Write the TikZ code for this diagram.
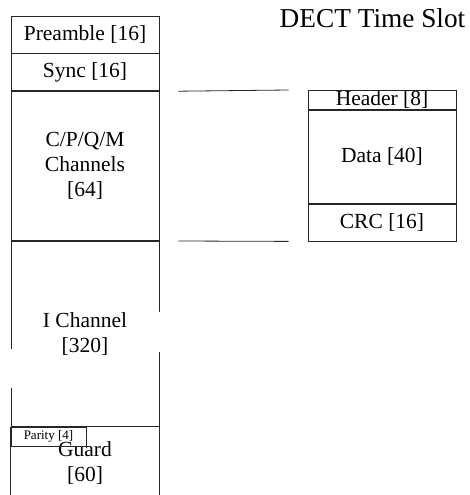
\documentclass[tikz,border=0pt]{standalone}
\usepackage{fontspec}
\setmainfont{Liberation Serif}
\usetikzlibrary{positioning}
\tikzset{
  slot field/.style={draw=black!85,line width=0.8pt,minimum width=148pt,inner sep=0pt,align=center,font=\fontsize{21.5}{25}\selectfont},
  thin field/.style={slot field,text height=15pt,text depth=3pt},
  parity field/.style={draw=black!85,line width=0.8pt,minimum width=75pt,minimum height=19pt,inner sep=0pt,font=\fontsize{13}{15}\selectfont},
  zoom line/.style={draw=black!85,line width=0.8pt}
}

\begin{document}
\begin{tikzpicture}[x=1pt,y=-1pt]
  \useasboundingbox (0,0) rectangle (469,495);
  % left column: the time slot
  \node[slot field,minimum height=37pt] (preamble) at (85,34.5) {Preamble [16]};
  \node[slot field,minimum height=37pt,below=0pt of preamble] (sync) {Sync [16]};
  \node[slot field,minimum height=149pt,below=0pt of sync] (cpqm) {C/P/Q/M\\Channels\\{[64]}};
  \node[slot field,minimum height=185pt,below=0pt of cpqm] (ichan) {};
  \fill[white] (5,350.5) -- (165,310.5) -- (165,350.5) -- (5,389.5) -- cycle;
  \node[slot field,draw=none] (ichantext) at (ichan.center) {I Channel\\{[320]}};
  \node[slot field,draw=none,minimum height=71pt,below=0pt of ichan] (guard) {Guard\\{[60]}};
  \draw[zoom line] (guard.north west) -- (guard.south west);
  \draw[zoom line] (guard.north east) -- (guard.south east);
  \node[parity field,anchor=north west] (parity) at (ichan.south west) {Parity [4]};
  % right column: the channel field
  \node[font=\fontsize{27.3}{32}\selectfont] (title) at (372.5,18.5) {DECT Time Slot};
  \node[thin field,minimum height=19pt,anchor=north] (header) at (382,90) {Header [8]};
  \node[slot field,minimum height=93pt,below=0pt of header] (data) {Data [40]};
  \node[slot field,minimum height=37pt,below=0pt of data] (crc) {CRC [16]};
  \draw[zoom line] ([xshift=19pt]sync.south east) -- ([xshift=-19pt]header.north west);
  \draw[zoom line] ([xshift=19pt]cpqm.south east) -- ([xshift=-19pt]crc.south west);
\end{tikzpicture}
\end{document}
